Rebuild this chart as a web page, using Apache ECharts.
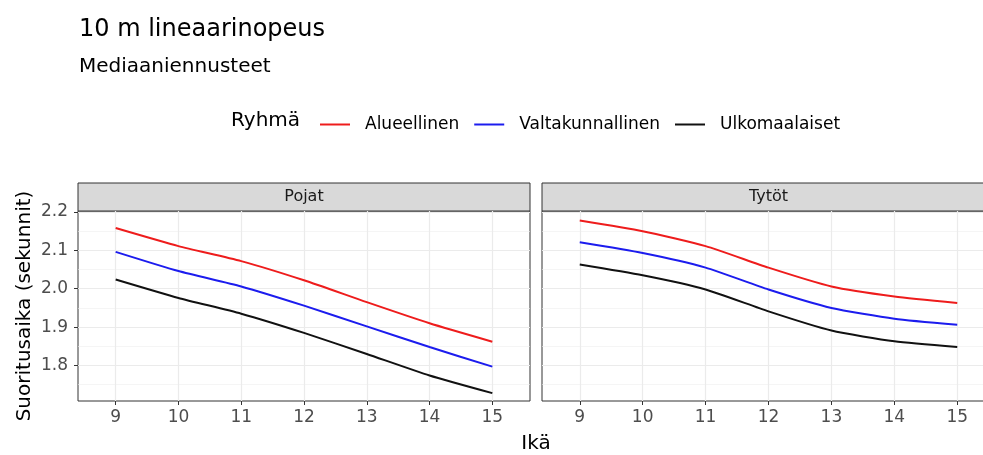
<!DOCTYPE html>
<html>
<head>
<meta charset="utf-8">
<title>10 m lineaarinopeus</title>
<script src="https://cdn.jsdelivr.net/npm/echarts@6/dist/echarts.min.js"></script>
<style>
  html, body { margin: 0; padding: 0; background: #fff; }
  #main { width: 983px; height: 455px; }
</style>
</head>
<body>
<div id="main"></div>
<script>
// ikä (x-akseli)
const ages = [9, 10, 11, 12, 13, 14, 15];
const groups = ['Alueellinen', 'Valtakunnallinen', 'Ulkomaalaiset'];
const groupColors = ['#ee1c1c', '#1c1cee', '#111111'];
const panels = ['Pojat', 'Tytöt'];

// mediaaniennusteet, sekunnit
const pojatAlueellinen = [2.158, 2.111, 2.072, 2.022, 1.965, 1.910, 1.862];
const pojatValtakunnallinen = [2.096, 2.046, 2.006, 1.956, 1.902, 1.848, 1.797];
const pojatUlkomaalaiset = [2.024, 1.976, 1.935, 1.885, 1.830, 1.774, 1.728];
const tytotAlueellinen = [2.178, 2.150, 2.111, 2.055, 2.006, 1.980, 1.963];
const tytotValtakunnallinen = [2.121, 2.093, 2.055, 1.998, 1.950, 1.922, 1.906];
const tytotUlkomaalaiset = [2.063, 2.035, 1.998, 1.941, 1.891, 1.863, 1.848];

const yTicks = [1.8, 1.9, 2.0, 2.1, 2.2];
const yMinorTicks = [1.75, 1.85, 1.95, 2.05, 2.15];

const panelData = [
  [pojatAlueellinen, pojatValtakunnallinen, pojatUlkomaalaiset],
  [tytotAlueellinen, tytotValtakunnallinen, tytotUlkomaalaiset],
];

const FONT = 'DejaVu Sans';
const PANEL_TOP = 211, PANEL_H = 190;
const panelLeft = [78, 542];
const panelW = [452, 453]; // oikea paneeli jatkuu kuvan reunan yli

const chart = echarts.init(document.getElementById('main'));

const grid = [], xAxis = [], yAxis = [], series = [], graphic = [];

panels.forEach(function(name, p) {
  grid.push({
    left: panelLeft[p], top: PANEL_TOP, width: panelW[p], height: PANEL_H,
    outerBoundsMode: 'none', containLabel: false,
    show: true, borderColor: '#333333', borderWidth: 1, backgroundColor: '#fff',
  });
  xAxis.push({
    type: 'value', gridIndex: p, min: 8.4, max: 15.6,
    axisLine: { show: false },
    axisTick: { show: true, customValues: ages, length: 4, lineStyle: { color: '#333' } },
    axisLabel: { customValues: ages, margin: 8, color: '#4d4d4d', fontSize: 17, fontFamily: FONT },
    splitLine: { show: true, lineStyle: { color: '#ebebeb', width: 1.2 } },
  });
  // pääruudukko + tikkien tekstit
  yAxis.push({
    type: 'value', gridIndex: p, min: 1.7075, max: 2.2025,
    axisLine: { show: false },
    axisTick: { show: p === 0, customValues: yTicks, length: 4, lineStyle: { color: '#333' } },
    axisLabel: {
      show: p === 0, customValues: yTicks, margin: 10, color: '#4d4d4d', fontSize: 17, fontFamily: FONT,
      formatter: function(v) { return v.toFixed(1); },
    },
    splitLine: { show: true, lineStyle: { color: '#ebebeb', width: 1.2 } },
  });
  // apuruudukko
  yAxis.push({
    type: 'value', gridIndex: p, min: 1.7075, max: 2.2025,
    axisLine: { show: false },
    axisTick: { show: false, customValues: yMinorTicks },
    axisLabel: { show: false },
    splitLine: { show: true, lineStyle: { color: '#efefef', width: 0.6 } },
  });

  groups.forEach(function(g, i) {
    series.push({
      name: g, type: 'line', xAxisIndex: p, yAxisIndex: p * 2,
      data: ages.map(function(a, k) { return [a, panelData[p][i][k]]; }),
      showSymbol: false, smooth: 0.2,
      lineStyle: { color: groupColors[i], width: 2 },
      itemStyle: { color: groupColors[i] },
      z: 3,
    });
  });

  // paneelin otsikkopalkki
  graphic.push({
    type: 'rect', shape: { x: panelLeft[p], y: 183, width: panelW[p], height: PANEL_TOP - 183 },
    style: { fill: '#d9d9d9', stroke: '#333333', lineWidth: 1 },
  });
  graphic.push({
    type: 'text', x: panelLeft[p] + panelW[p] / 2, y: 197,
    style: { text: name, fill: '#1a1a1a', font: '16px "' + FONT + '"', align: 'center', verticalAlign: 'middle' },
  });
});

graphic.push(
  { type: 'text', x: 79, y: 30, style: { text: '10 m lineaarinopeus', fill: '#000', font: '24px "' + FONT + '"', verticalAlign: 'middle' } },
  { type: 'text', x: 79, y: 67, style: { text: 'Mediaaniennusteet', fill: '#000', font: '20px "' + FONT + '"', verticalAlign: 'middle' } },
  { type: 'text', x: 231, y: 121, style: { text: 'Ryhmä', fill: '#000', font: '20px "' + FONT + '"', verticalAlign: 'middle' } },
  { type: 'text', x: 25, y: 306, rotation: Math.PI / 2,
    style: { text: 'Suoritusaika (sekunnit)', fill: '#000', font: '20px "' + FONT + '"', align: 'center', verticalAlign: 'middle' } },
  { type: 'text', x: 536, y: 444, style: { text: 'Ikä', fill: '#000', font: '20px "' + FONT + '"', align: 'center', verticalAlign: 'middle' } }
);

chart.setOption({
  backgroundColor: '#fff',
  animation: false,
  legend: {
    data: groups, left: 315, top: 111,
    icon: 'rect', itemWidth: 30, itemHeight: 2, itemGap: 15,
    textStyle: { fontSize: 17, fontFamily: FONT, color: '#000', padding: [0, 0, 0, 10] },
  },
  grid: grid,
  xAxis: xAxis,
  yAxis: yAxis,
  series: series,
  graphic: graphic,
});
</script>
</body>
</html>
